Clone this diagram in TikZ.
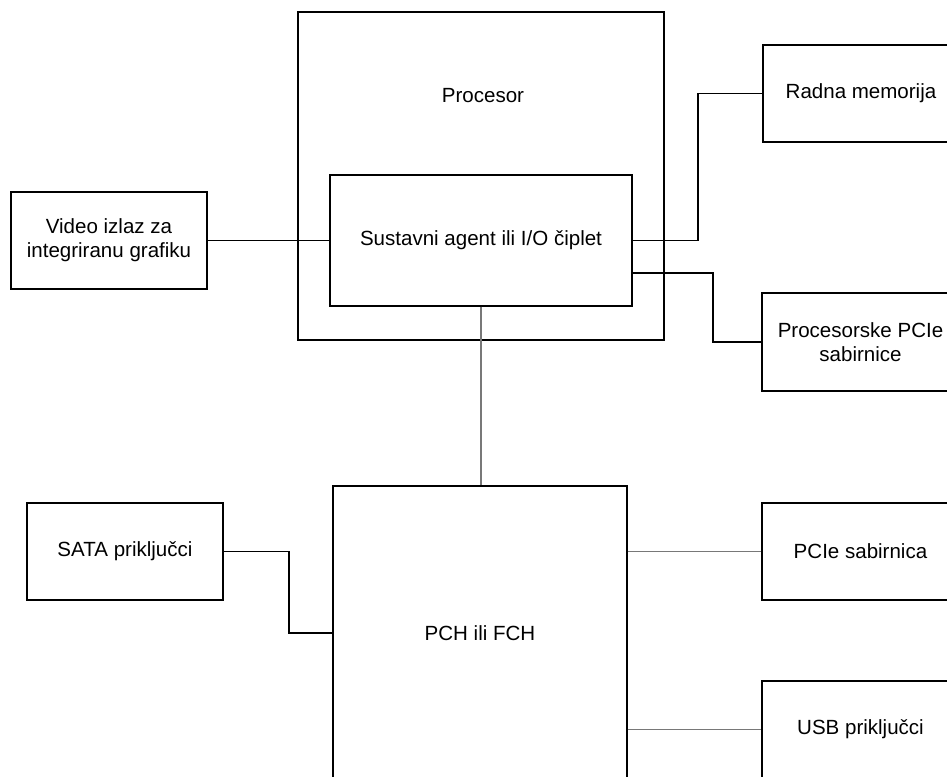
\documentclass[tikz,border=0pt]{standalone}
\usepackage{fontspec}
\setmainfont{Liberation Sans}
\usetikzlibrary{fit}
\definecolor{conngray}{RGB}{120,120,120}
\begin{document}
\begin{tikzpicture}[x=0.75pt,y=-0.75pt,
  box/.style={draw=black,line width=1pt,inner sep=0pt,align=center,font=\fontsize{15.4}{18}\selectfont},
  lbl/.style={inner sep=0pt,align=center,font=\fontsize{15.4}{18}\selectfont},
  conn/.style={draw=black,line width=1pt},
  gconn/.style={draw=conngray,line width=1.4pt}]
\useasboundingbox (0,0) rectangle (947,776);
\clip (0,0) rectangle (947,776);
% nodes
\node[box,fit={(298,12) (664,340)}] (proc) {};
\node[lbl] (proclbl) at (483,96) {Procesor};
\node[box,fill=white,fit={(330,175) (632,306)}] (sa) {};
\node[lbl] at (sa.center) (salbl) {Sustavni agent ili I/O čiplet};
\node[box,fit={(11,192) (207,289)}] (video) {};
\node[lbl] at (video.center) (videolbl) {Video izlaz za\\integriranu grafiku};
\node[box,fit={(763,45) (959,142)}] (ram) {};
\node[lbl] at (ram.center) (ramlbl) {Radna memorija};
\node[box,fit={(762,293) (959,391)}] (ppcie) {};
\node[lbl] at (ppcie.center) (ppcielbl) {Procesorske PCIe\\sabirnice};
\node[box,fit={(333,486) (627,780)}] (pch) {};
\node[lbl] at (pch.center) (pchlbl) {PCH ili FCH};
\node[box,fit={(762,503) (959,600)}] (pcie) {};
\node[lbl] at (pcie.center) (pcielbl) {PCIe sabirnica};
\node[box,fit={(762,681) (959,778)}] (usb) {};
\node[lbl] at (usb.center) (usblbl) {USB priključci};
\node[box,fit={(27,503) (223,600)}] (sata) {};
\node[lbl] at (sata.center) (satalbl) {SATA priključci};
% connectors
\draw[conn] (video.east) -- (sa.west);
\draw[conn] (sa.east) -- (698,240.5) |- (ram.west);
\draw[conn] (sa.east |- 0,273) -- (713,273) |- (ppcie.west);
\draw[gconn] (sa.south) -- (sa.south |- pch.north);
\draw[gconn] (pch.east |- pcie.west) -- (pcie.west);
\draw[gconn] (pch.east |- usb.west) -- (usb.west);
\draw[conn] (sata.east) -- (289,551.5) |- (pch.west);
\end{tikzpicture}
\end{document}
